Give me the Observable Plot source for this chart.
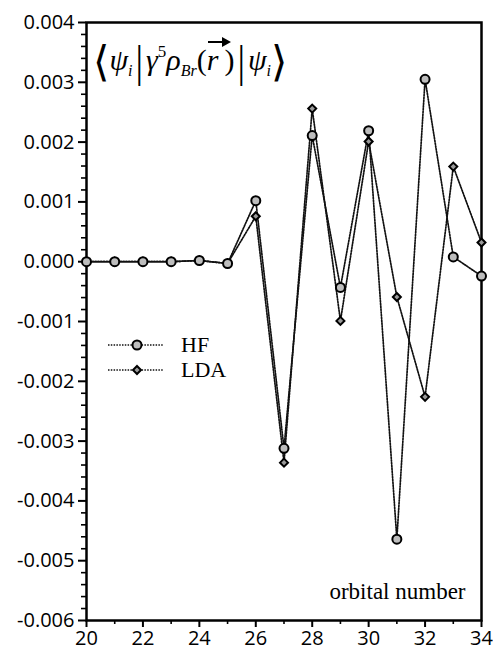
<!DOCTYPE html>
<html><head><meta charset="utf-8">
<script src="https://cdn.jsdelivr.net/npm/d3@7"></script>
<script src="https://cdn.jsdelivr.net/npm/@observablehq/plot@0.6"></script>
<style>
body{margin:0;background:#fff;}
#wrap{position:relative;width:493px;height:648px;overflow:hidden;background:#fff;}
#wrap svg{display:block;}
.formula{position:absolute;left:93px;top:41px;font-family:'Liberation Serif','DejaVu Serif',serif;font-size:30px;color:#000;white-space:nowrap;line-height:1;}
.formula i{font-style:italic;}
.formula .br{font-size:42px;font-family:'DejaVu Serif',serif;font-weight:300;vertical-align:-6px;}
.formula .bar{font-size:40px;vertical-align:-6px;font-family:'DejaVu Sans',sans-serif;font-weight:200;}
.formula sub{font-size:16px;vertical-align:-6px;}
.formula sup{font-size:17px;vertical-align:13px;}
.vec{position:relative;display:inline-block;}
.vec .shaft{position:absolute;left:1px;top:-4px;width:16px;height:2px;background:#000;}
.vec .head{position:absolute;left:15px;top:-8px;width:0;height:0;border-top:5px solid transparent;border-bottom:5px solid transparent;border-left:9px solid #000;}
.legend{position:absolute;left:100px;top:330px;}
.legend .lab{position:absolute;font-family:'Liberation Serif',serif;font-size:22px;color:#000;}
</style></head><body><div id="wrap"></div>
<script>
const orbitals = [20,21,22,23,24,25,26,27,28,29,30,31,32,33,34];
const hf  = [0, 0, 0, 0, 0.00002, -0.00003, 0.00102, -0.00312, 0.00211, -0.00043, 0.00219, -0.00464, 0.00305, 0.00008, -0.00024];
const lda = [0, 0, 0, 0, 0.00002, -0.00003, 0.00076, -0.00336, 0.00256, -0.00099, 0.00201, -0.00059, -0.00226, 0.00159, 0.00032];
const seriesNames = ["HF", "LDA"];
const yTicks = [-0.006,-0.005,-0.004,-0.003,-0.002,-0.001,0,0.001,0.002,0.003,0.004];
const yMinor = d3.range(-30, 21).filter(k => k % 5 !== 0).map(k => k * 0.0002);
const xTicks = [20,22,24,26,28,30,32,34];
const xMinor = [21,23,25,27,29,31,33];
const xTitle = "orbital number";

const fmt = v => Math.abs(v) < 1e-12 ? "0.000" : v.toFixed(3);
const rows = orbitals.map((n, i) => ({n, hf: hf[i], lda: lda[i]}));

const chart = Plot.plot({
  width: 493, height: 648,
  marginLeft: 86, marginRight: 12, marginTop: 22, marginBottom: 28,
  x: {domain: [20, 34]},
  y: {domain: [-0.006, 0.004]},
  style: {fontFamily: "'Open Sans', sans-serif", fontSize: "20px", color: "#000", background: "#fff"},
  marks: [
    Plot.axisY(yMinor, {tickSize: 5, tickFormat: () => "", strokeWidth: 1.6, label: null}),
    Plot.axisY(yTicks, {tickSize: 8, tickPadding: 4, tickFormat: fmt, strokeWidth: 2, label: null}),
    Plot.axisX(xMinor, {tickSize: 4, tickFormat: () => "", strokeWidth: 1.6, label: null}),
    Plot.axisX(xTicks, {tickSize: 7, tickPadding: 3, tickFormat: d => String(d), strokeWidth: 2, label: null}),
    Plot.frame({stroke: "#000", strokeWidth: 2.5}),
    Plot.line(rows, {x: "n", y: "lda", stroke: "#111", strokeWidth: 1.7, strokeDasharray: "1.5,1.3"}),
    Plot.line(rows, {x: "n", y: "hf", stroke: "#111", strokeWidth: 1.7, strokeDasharray: "1.5,1.3"}),
    Plot.dot(rows, {x: "n", y: "lda", symbol: "diamond2", r: 3.6, fill: "#9a9a9a", stroke: "#000", strokeWidth: 2}),
    Plot.dot(rows, {x: "n", y: "hf", r: 4.5, fill: "#bdbdbd", stroke: "#000", strokeWidth: 2}),
    Plot.text([xTitle], {frameAnchor: "bottom-right", dx: -16, dy: -22, fontFamily: "'Liberation Serif', serif", fontSize: 23, textAnchor: "end", fill: "#000"})
  ]
});
const wrap = document.getElementById("wrap");
wrap.appendChild(chart);

// formula
const f = document.createElement("div");
f.className = "formula";
f.innerHTML = '<span class="br">⟨</span><i>ψ</i><sub><i>i</i></sub><span class="bar">|</span><i>γ</i><sup>5</sup><i>ρ</i><sub><i>Br</i></sub>(<span class="vec"><i>r</i><span class="shaft"></span><span class="head"></span></span>&#8201;)<span class="bar">|</span><i>ψ</i><sub><i>i</i></sub><span class="br">⟩</span>';
wrap.appendChild(f);

// legend
const lg = document.createElement("div");
lg.className = "legend";
const svg = d3.create("svg").attr("width", 70).attr("height", 50).style("position", "absolute").style("left", "0px").style("top", "0px");
seriesNames.forEach((name, i) => {
  const y = 15 + i * 25;
  svg.append("line").attr("x1", 8).attr("x2", 63).attr("y1", y).attr("y2", y)
    .attr("stroke", "#111").attr("stroke-width", 1.7).attr("stroke-dasharray", "1.5,1.3");
  if (i === 0) {
    svg.append("circle").attr("cx", 37).attr("cy", y).attr("r", 4.5).attr("fill", "#bdbdbd").attr("stroke", "#000").attr("stroke-width", 2);
  } else {
    svg.append("path").attr("d", d3.symbol(d3.symbolDiamond2, Math.PI * 3.6 * 3.6)()).attr("transform", `translate(37,${y})`)
      .attr("fill", "#9a9a9a").attr("stroke", "#000").attr("stroke-width", 2);
  }
  const t = document.createElement("div");
  t.className = "lab";
  t.textContent = name;
  t.style.left = "81px";
  t.style.top = (y - 13) + "px";
  lg.appendChild(t);
});
lg.appendChild(svg.node());
wrap.appendChild(lg);
</script>
</body></html>
